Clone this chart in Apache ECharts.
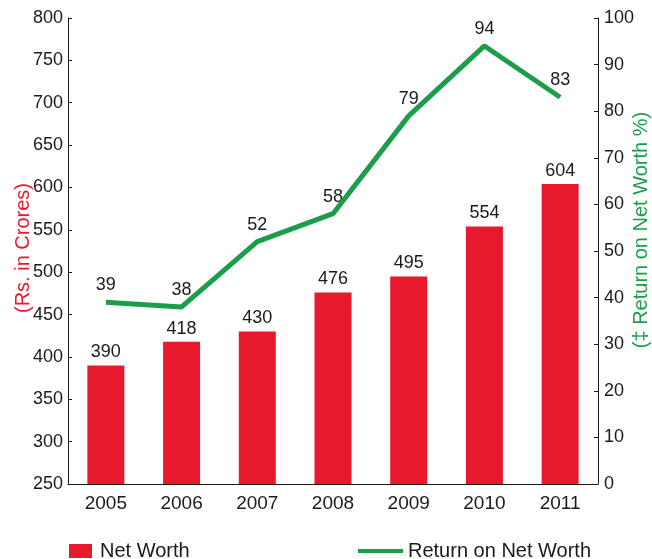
<!DOCTYPE html>
<html><head><meta charset="utf-8">
<script src="https://cdn.jsdelivr.net/npm/echarts@6/dist/echarts.min.js"></script>
<style>html,body{margin:0;padding:0;background:#fff}#c{width:652px;height:559px}</style>
</head><body><div id="c"></div>
<script>
const years = ['2005','2006','2007','2008','2009','2010','2011'];
const netWorth = [390, 418, 430, 476, 495, 554, 604];
const returnOnNetWorth = [39, 38, 52, 58, 79, 94, 83];
const leftTicks = {min: 250, max: 800, interval: 50};
const rightTicks = {min: 0, max: 100, interval: 10};
const leftAxisTitle = '(Rs. in Crores)';
const rightAxisTitle = '(\u2021 Return on Net Worth %)';

const font = 'Liberation Sans, Arial, sans-serif';
const red = '#e8192c', green = '#1a9e4a', ink = '#1a1a1a';
const chart = echarts.init(document.getElementById('c'));
chart.setOption({
  animation: false,
  grid: {left: 68, right: 54, top: 18, bottom: 75, outerBoundsMode: 'none', containLabel: false},
  graphic: [
    {type: 'text', x: 23, y: 248, rotation: Math.PI / 2,
     style: {text: leftAxisTitle, fill: red, font: '20px ' + font, align: 'center', verticalAlign: 'middle'}},
    {type: 'text', x: 641, y: 230, rotation: Math.PI / 2,
     style: {text: rightAxisTitle, fill: green, font: '20px ' + font, align: 'center', verticalAlign: 'middle'}}
  ],
  legend: [
    {
      left: 69, top: 541, padding: 0, itemWidth: 23, itemHeight: 14,
      textStyle: {fontFamily: font, fontSize: 20, color: ink, padding: [0, 0, 0, 3]},
      data: [{name: 'Net Worth', icon: 'rect'}]
    },
    {
      left: 358, top: 541, padding: 0, itemWidth: 45, itemHeight: 4,
      textStyle: {fontFamily: font, fontSize: 20, color: ink},
      data: [{name: 'Return on Net Worth', icon: 'rect', itemStyle: {color: green}}]
    }
  ],
  xAxis: {
    type: 'category', data: years, boundaryGap: true,
    axisLine: {lineStyle: {color: ink, width: 1}},
    axisTick: {inside: true, length: 4, lineStyle: {color: ink}},
    axisLabel: {fontFamily: font, fontSize: 19, color: ink, margin: 10}
  },
  yAxis: [
    {
      type: 'value', min: leftTicks.min, max: leftTicks.max, interval: leftTicks.interval,
      axisLine: {show: true, lineStyle: {color: ink}},
      axisTick: {show: true, inside: true, length: 4, lineStyle: {color: ink}},
      axisLabel: {fontFamily: font, fontSize: 18, color: ink, margin: 5},
      splitLine: {show: false}
    },
    {
      type: 'value', min: rightTicks.min, max: rightTicks.max, interval: rightTicks.interval,
      position: 'right',
      axisLine: {show: true, lineStyle: {color: ink}},
      axisTick: {show: true, inside: true, length: 4, lineStyle: {color: ink}},
      axisLabel: {fontFamily: font, fontSize: 18, color: ink, margin: 6},
      splitLine: {show: false}
    }
  ],
  series: [
    {
      name: 'Net Worth', type: 'bar', yAxisIndex: 0, data: netWorth, barWidth: 37,
      itemStyle: {color: red},
      label: {show: true, position: 'top', distance: 4, fontFamily: font, fontSize: 18, color: ink}
    },
    {
      name: 'Return on Net Worth', type: 'line', yAxisIndex: 1, data: returnOnNetWorth,
      symbol: 'none', lineStyle: {color: green, width: 5}, itemStyle: {color: green}
    },
    {
      name: 'rlabels', type: 'scatter', yAxisIndex: 1, data: returnOnNetWorth,
      symbolSize: 0, silent: true, itemStyle: {opacity: 1, color: green},
      label: {show: true, position: 'top', distance: 8, fontFamily: font, fontSize: 18, color: ink, opacity: 1}
    }
  ]
});
</script></body></html>
